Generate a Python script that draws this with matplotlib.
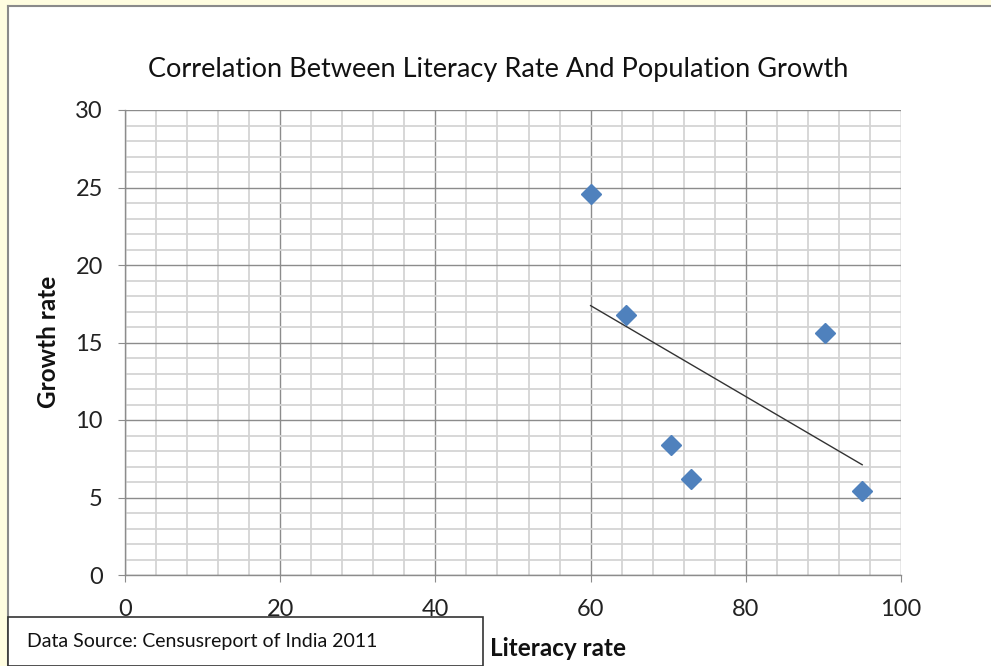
import numpy as np
import matplotlib
matplotlib.use("Agg")
import matplotlib.pyplot as plt
from matplotlib.patches import Rectangle
from matplotlib.lines import Line2D

plt.rcParams['font.family'] = ['Lato', 'DejaVu Sans']

# Data
literacy_rate = [60.0, 64.5, 70.3, 73.0, 90.2, 95.0]
growth_rate = [24.6, 16.8, 8.4, 6.2, 15.6, 5.4]
title = "Correlation Between Literacy Rate And Population Growth"
x_label = "Literacy rate"
y_label = "Growth rate"
source_text = "Data Source: Censusreport of India 2011"
x_ticks = [0, 20, 40, 60, 80, 100]
y_ticks = [0, 5, 10, 15, 20, 25, 30]

W, H = 991, 666
fig = plt.figure(figsize=(W / 100, H / 100), dpi=100)
fig.patch.set_facecolor('white')

# frame strips (yellowish) and gray border
fig.patches.append(Rectangle((0, 0), 7 / W, 1, transform=fig.transFigure, color='#FFFDE0', zorder=0))
fig.patches.append(Rectangle((0, 1 - 5 / H), 1, 5 / H, transform=fig.transFigure, color='#FFFDE0', zorder=0))
fig.lines.append(Line2D([7.5 / W, 7.5 / W], [0, 1 - 5.5 / H], transform=fig.transFigure, color='#8a8a8a', lw=1.5))
fig.lines.append(Line2D([7.5 / W, 1], [1 - 6 / H, 1 - 6 / H], transform=fig.transFigure, color='#8a8a8a', lw=1.5))

ax = fig.add_axes([125 / W, 1 - 575 / H, (901 - 125) / W, (575 - 110) / H])
ax.set_xlim(0, 100)
ax.set_ylim(0, 30)

# grid
ax.set_xticks(x_ticks)
ax.set_yticks(y_ticks)
ax.set_xticks(np.arange(0, 101, 4), minor=True)
ax.set_yticks(np.arange(0, 31, 1), minor=True)
ax.grid(which='minor', color='#d4d4d4', lw=1.3)
ax.grid(which='major', color='#8c8c8c', lw=1.0)
ax.set_axisbelow(True)

for s in ['top', 'right']:
    ax.spines[s].set_visible(False)
for s in ['left', 'bottom']:
    ax.spines[s].set_color('#8c8c8c')
    ax.spines[s].set_linewidth(1.0)

ax.tick_params(which='minor', length=0)
ax.tick_params(which='major', length=5, color='#8c8c8c', labelsize=17, labelcolor='#222222')
ax.tick_params(axis='x', pad=12)
ax.tick_params(axis='y', pad=11)

# scatter
ax.plot(literacy_rate, growth_rate, linestyle='none', marker='D', markersize=10,
        color='#4F81BD', markeredgecolor='#4F81BD', zorder=3, clip_on=False)

# linear trendline
coef = np.polyfit(literacy_rate, growth_rate, 1)
xs = np.array([min(literacy_rate), max(literacy_rate)])
ax.plot(xs, np.polyval(coef, xs), color='#333333', lw=1.0, zorder=2)

fig.text(498 / W, 1 - 70 / H, title, ha='center', va='center', fontsize=19.5, color='#111111')
fig.text(49 / W, 1 - 342 / H, y_label, ha='center', va='center', rotation=90,
         fontsize=17.5, fontweight='bold', color='#111111')
fig.text(490 / W, 1 - 648 / H, x_label, ha='left', va='center', fontsize=17.5,
         fontweight='bold', color='#111111')

# source box
fig.patches.append(Rectangle((8 / W, 0), (483 - 8) / W, (666 - 617) / H, transform=fig.transFigure,
                             facecolor='white', edgecolor='#333333', lw=1.2, zorder=5))
fig.text(27 / W, 1 - 641 / H, source_text, ha='left', va='center', fontsize=14,
         color='#111111', zorder=6)

fig.savefig('out.png', dpi=100)
